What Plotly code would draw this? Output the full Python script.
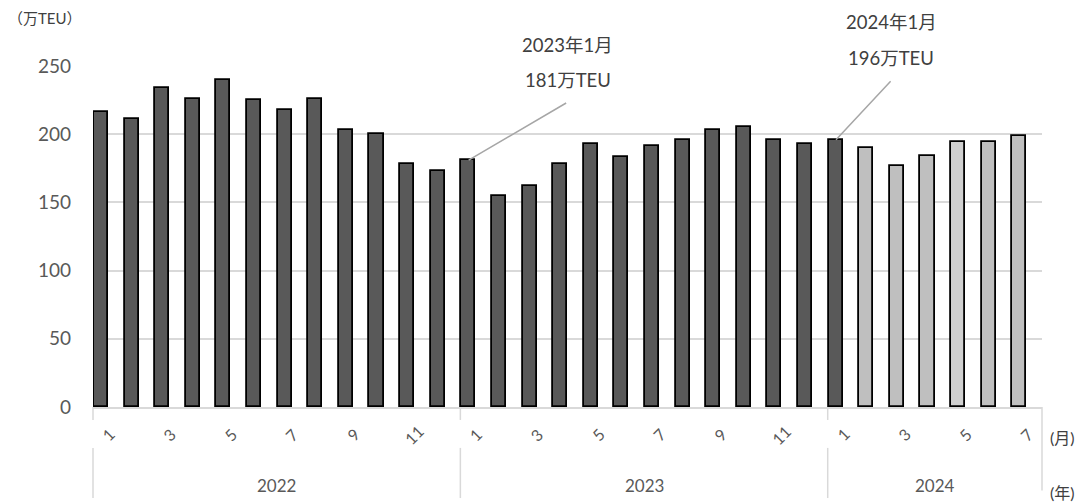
import plotly.graph_objects as go

# ---- data ----
years = [2022] * 12 + [2023] * 12 + [2024] * 7
months = list(range(1, 13)) + list(range(1, 13)) + list(range(1, 8))
teu = [216, 211, 234, 226, 240, 225, 218, 226, 203, 200, 178, 173,
       181, 155, 162, 178, 193, 183, 191, 196, 203, 205, 196, 193,
       196, 190, 177, 184, 194, 194, 199]
light_from = 25  # 2024-2 onwards drawn light
y_ticks = [0, 50, 100, 150, 200, 250]
callouts = [(2023, 1, "2023年1月", "181万TEU"), (2024, 1, "2024年1月", "196万TEU")]

FONT = "Lato, 'Noto Sans CJK JP', sans-serif"
n = len(teu)
xs = list(range(n))

fig = go.Figure()
fig.add_trace(go.Bar(
    x=xs[:light_from], y=teu[:light_from], width=0.46, offset=-0.47,
    marker=dict(color="#595959", line=dict(color="#000000", width=1.8)),
    showlegend=False, hoverinfo="skip"))
light_colors = ["#bfbfbf"] * (n - light_from)
light_colors[3] = "#d0d0d0"
fig.add_trace(go.Bar(
    x=xs[light_from:], y=teu[light_from:], width=0.46, offset=-0.47,
    marker=dict(color=light_colors, line=dict(color="#000000", width=1.8)),
    showlegend=False, hoverinfo="skip"))

ann = []
shapes = []
# month labels (odd months only)
for i, m in enumerate(months):
    if m % 2 == 1:
        ann.append(dict(x=i, y=-0.082, xref="x", yref="paper", text=str(m),
                        showarrow=False, textangle=-45, xanchor="center", yanchor="middle",
                        font=dict(family=FONT, size=16, color="#595959")))

# year groups and separators
def px(v):
    return (v + 0.5) / n

groups = []
for i, yv in enumerate(years):
    if not groups or groups[-1][0] != yv:
        groups.append([yv, i, i])
    else:
        groups[-1][2] = i
for yv, s, e in groups:
    ann.append(dict(x=(px(s - 0.5) + px(e + 0.5)) / 2, y=-0.229, xref="paper", yref="paper",
                    text=str(yv), showarrow=False, xanchor="center", yanchor="middle",
                    font=dict(family=FONT, size=17, color="#595959")))
    xl = px(s - 0.5)
    shapes.append(dict(type="line", xref="paper", yref="paper", x0=xl, x1=xl, y0=0, y1=-0.038,
                       line=dict(color="#d9d9d9", width=1.5)))
    shapes.append(dict(type="line", xref="paper", yref="paper", x0=xl, x1=xl, y0=-0.12, y1=-0.267,
                       line=dict(color="#d9d9d9", width=1.5)))
shapes.append(dict(type="line", xref="paper", yref="paper", x0=1, x1=1, y0=0, y1=-0.245,
                   line=dict(color="#d9d9d9", width=1.5)))

# unit labels
ann.append(dict(x=1.006, y=-0.088, xref="paper", yref="paper", text="(月)", showarrow=False,
                xanchor="left", yanchor="middle", font=dict(family=FONT, size=16, color="#404040")))
ann.append(dict(x=1.006, y=-0.25, xref="paper", yref="paper", text="(年)", showarrow=False,
                xanchor="left", yanchor="middle", font=dict(family=FONT, size=16, color="#404040")))
ann.append(dict(x=-0.092, y=1.14, xref="paper", yref="paper", text="（万TEU）", showarrow=False,
                xanchor="left", yanchor="middle", font=dict(family=FONT, size=15, color="#404040")))

# callouts
offsets = {2023: (99, -58, 99, 80, 115), 2024: (56, -60, 55, 82, 118)}
for yv, m, t1, t2 in callouts:
    idx = [i for i in range(n) if years[i] == yv and months[i] == m][0]
    ax_, ay_, tx, ty2, ty1 = offsets[yv]
    ann.append(dict(x=idx, y=teu[idx], xref="x", yref="y", xshift=-7, text="",
                    showarrow=True, arrowhead=0, arrowwidth=1.5, arrowcolor="#a6a6a6",
                    ax=ax_, ay=ay_, standoff=0, startstandoff=0))
    ann.append(dict(x=idx, y=teu[idx], xref="x", yref="y", xshift=-7 + tx, yshift=ty2,
                    text=t2, showarrow=False, xanchor="center", yanchor="middle",
                    font=dict(family=FONT, size=18.5, color="#404040")))
    ann.append(dict(x=idx, y=teu[idx], xref="x", yref="y", xshift=-7 + tx, yshift=ty1,
                    text=t1, showarrow=False, xanchor="center", yanchor="middle",
                    font=dict(family=FONT, size=18.5, color="#404040")))

fig.update_layout(
    width=1086, height=503,
    margin=dict(l=85, r=52, t=58, b=104),
    paper_bgcolor="white", plot_bgcolor="white",
    bargap=0, barmode="overlay",
    xaxis=dict(range=[-0.5, n - 0.5], showticklabels=False, showgrid=False, zeroline=False,
               showline=True, linecolor="#d9d9d9", linewidth=1.5, ticks=""),
    yaxis=dict(range=[0, 250], tickvals=y_ticks, showgrid=True, gridcolor="#d9d9d9", gridwidth=1.5,
               zeroline=False, showline=False, ticks="", ticklabelstandoff=21,
               tickfont=dict(family=FONT, size=19, color="#595959")),
    annotations=ann, shapes=shapes,
)
fig.write_html("out.html")
